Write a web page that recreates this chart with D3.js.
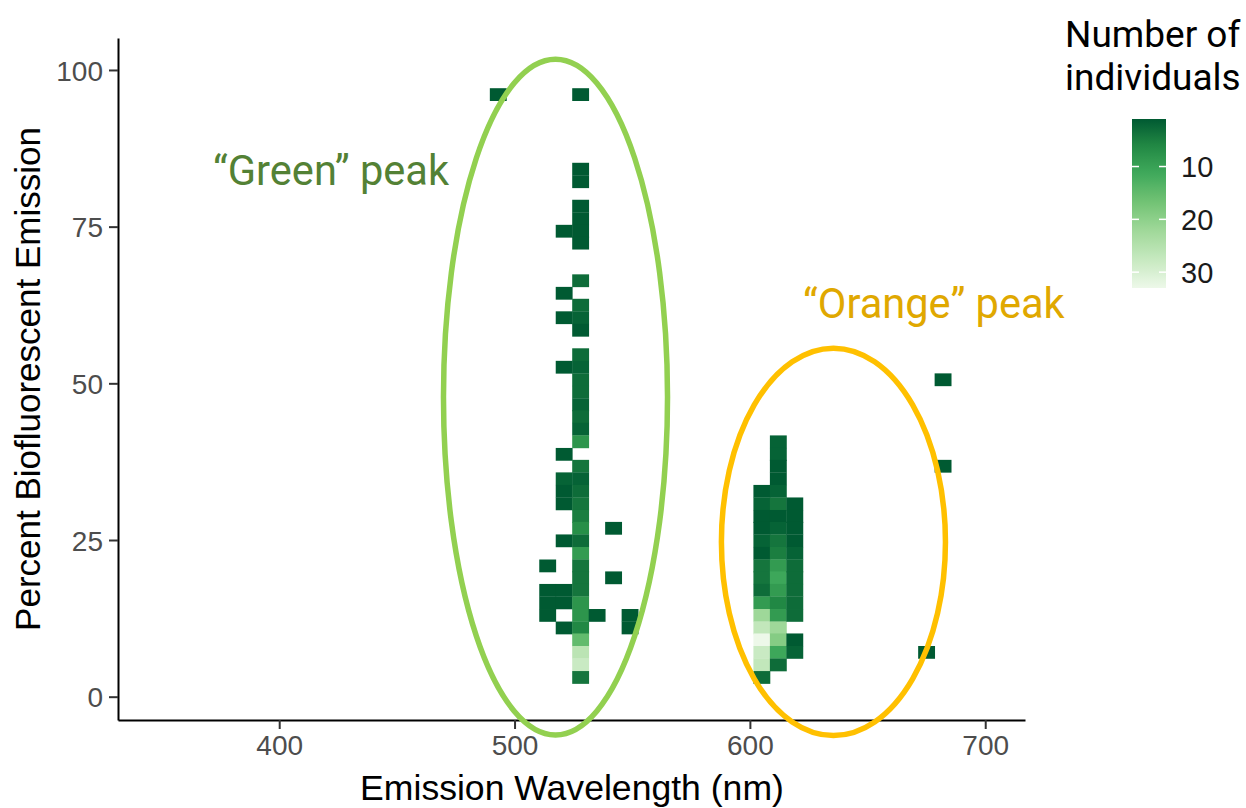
<!DOCTYPE html>
<html>
<head>
<meta charset="utf-8">
<script src="https://cdn.jsdelivr.net/npm/d3@7"></script>
<style>
  html, body { margin: 0; padding: 0; background: #ffffff; }
  svg { display: block; }
</style>
</head>
<body>
<svg id="chart" width="1246" height="808"></svg>
<script>
// ---- Binned counts: one entry per filled cell (bin centre wavelength, bin centre percent, count) ----
const wavelength = [
  493,
  514, 514, 514, 514,
  521, 521, 521, 521, 521, 521, 521, 521, 521, 521, 521, 521,
  528, 528, 528, 528, 528, 528, 528, 528, 528, 528, 528, 528, 528, 528, 528, 528, 528,
  528, 528, 528, 528, 528, 528, 528, 528, 528, 528, 528, 528, 528, 528, 528, 528, 528, 528, 528, 528,
  535,
  542, 542,
  549, 549,
  605, 605, 605, 605, 605, 605, 605, 605, 605, 605, 605, 605, 605, 605, 605, 605,
  612, 612, 612, 612, 612, 612, 612, 612, 612, 612, 612, 612, 612, 612, 612, 612, 612, 612, 612,
  619, 619, 619, 619, 619, 619, 619, 619, 619, 619, 619, 619,
  675,
  682, 682
];
const percent = [
  96.1,
  20.9, 17.0, 15.0, 13.0,
  74.3, 64.4, 60.5, 52.6, 38.7, 34.8, 32.8, 30.8, 24.9, 17.0, 15.0, 11.0,
  96.1, 84.2, 82.2, 78.3, 76.3, 74.3, 72.4, 66.4, 62.5, 60.5, 58.5, 54.6, 52.6, 50.6, 48.6, 46.6, 44.7,
  42.7, 40.7, 36.8, 34.8, 32.8, 30.8, 28.8, 26.9, 24.9, 22.9, 20.9, 19.0, 17.0, 15.0, 13.0, 11.0, 9.1, 7.1, 5.1, 3.1,
  13.0,
  26.9, 19.0,
  13.0, 11.0,
  32.8, 30.8, 28.8, 26.9, 24.9, 22.9, 20.9, 19.0, 17.0, 15.0, 13.0, 11.0, 9.1, 7.1, 5.1, 3.1,
  40.7, 38.7, 36.8, 34.8, 32.8, 30.8, 28.8, 26.9, 24.9, 22.9, 20.9, 19.0, 17.0, 15.0, 13.0, 11.0, 9.1, 7.1, 5.1,
  30.8, 28.8, 26.9, 24.9, 22.9, 20.9, 19.0, 17.0, 15.0, 13.0, 9.1, 7.1,
  7.1,
  50.6, 36.8
];
const individuals = [
  1,
  1, 1, 1, 1,
  1, 1, 1, 1, 1, 2, 1, 1, 1, 1, 1, 1,
  1, 1, 1, 1, 1, 1, 1, 3, 3, 2, 1, 3, 2, 3, 3, 2, 3,
  2, 8, 4, 2, 3, 4, 5, 7, 3, 9, 4, 4, 4, 8, 8, 6, 15, 26, 28, 4,
  1,
  1, 1,
  1, 1,
  1, 2, 1, 1, 2, 1, 4, 4, 3, 9, 22, 27, 33, 28, 27, 3,
  2, 2, 1, 1, 2, 4, 1, 2, 4, 5, 9, 11, 9, 6, 9, 22, 19, 11, 3,
  1, 1, 1, 1, 2, 3, 3, 3, 3, 3, 1, 2,
  1,
  1, 1
];

// ---- Axis and legend ticks ----
const xTicks = [400, 500, 600, 700];
const yTicks = [0, 25, 50, 75, 100];
const legendTicks = [10, 20, 30];

// ---- Colour palette (ColorBrewer Greens, dark for few individuals) ----
const greens = ["#005A32", "#238B45", "#41AB5D", "#74C476", "#A1D99B", "#C7E9C0", "#EDF8E9"];

// ---- Peak annotations ----
const peakLabels = ["\u201CGreen\u201D peak", "\u201COrange\u201D peak"];
const peakCentreNm = [517.4, 635.5];
const peakCentrePct = [47.8, 24.7];
const peakHalfWidthNm = [47.6, 47.6];
const peakHalfHeightPct = [53.9, 30.9];
const peakLabelNm = [371.9, 622.6];
const peakLabelPct = [81.6, 60.4];
const peakStroke = ["#92D050", "#FFC000"];
const peakText = ["#538135", "#E0A800"];

// ---- Layout ----
const svg = d3.select("#chart");
const plot = { left: 118, right: 1025, top: 38, bottom: 720 };
const binWidthNm = 7;
const binHeightPct = 1.978;
const sansFont = "'Liberation Sans', Arial, sans-serif";
const annoFont = "Roboto, 'Noto Sans', sans-serif";

const x = d3.scaleLinear().domain([331.5, 716.9]).range([plot.left, plot.right]);
const y = d3.scaleLinear().domain([-3.72, 105.1]).range([plot.bottom, plot.top]);

const countExtent = d3.extent(individuals);
const stops = greens.map((_, i) => countExtent[0] + i * (countExtent[1] - countExtent[0]) / (greens.length - 1));
const fill = d3.scaleLinear().domain(stops).range(greens).interpolate(d3.interpolateLab);

const cells = wavelength.map((w, i) => ({ w, p: percent[i], n: individuals[i] }));

// ---- Heatmap cells ----
svg.append("g")
  .selectAll("rect")
  .data(cells)
  .join("rect")
  .attr("x", d => x(d.w - binWidthNm / 2))
  .attr("width", d => x(d.w + binWidthNm / 2) - x(d.w - binWidthNm / 2) + 0.4)
  .attr("y", d => y(d.p + binHeightPct / 2))
  .attr("height", d => y(d.p - binHeightPct / 2) - y(d.p + binHeightPct / 2) + 0.4)
  .attr("fill", d => fill(d.n));

// ---- Axes ----
const xAxis = svg.append("g")
  .attr("transform", `translate(0,${plot.bottom})`)
  .call(d3.axisBottom(x).tickValues(xTicks).tickSize(9).tickSizeOuter(0).tickPadding(6));
const yAxis = svg.append("g")
  .attr("transform", `translate(${plot.left},0)`)
  .call(d3.axisLeft(y).tickValues(yTicks).tickSize(9).tickSizeOuter(0).tickPadding(6));

[xAxis, yAxis].forEach(g => {
  g.select(".domain").attr("stroke", "#000").attr("stroke-width", 2);
  g.selectAll(".tick line").attr("stroke", "#333").attr("stroke-width", 2);
  g.selectAll(".tick text")
    .attr("fill", "#4d4d4d")
    .style("font-family", sansFont)
    .style("font-size", "28px");
});
yAxis.selectAll(".tick text").attr("dy", "0.36em");

// axis titles
svg.append("text")
  .attr("x", 572)
  .attr("y", 800)
  .attr("text-anchor", "middle")
  .style("font-family", sansFont)
  .style("font-size", "35.6px")
  .attr("fill", "#000")
  .text("Emission Wavelength (nm)");

svg.append("text")
  .attr("transform", `translate(40,${(plot.top + plot.bottom) / 2}) rotate(-90)`)
  .attr("text-anchor", "middle")
  .style("font-family", sansFont)
  .style("font-size", "35px")
  .attr("fill", "#000")
  .text("Percent Biofluorescent Emission");

// ---- Colour bar legend ----
const legend = { left: 1132, width: 34, top: 119, bottom: 288 };
const ly = d3.scaleLinear().domain(countExtent).range([legend.top, legend.bottom]);

const grad = svg.append("defs").append("linearGradient")
  .attr("id", "countGradient")
  .attr("x1", 0).attr("y1", 0).attr("x2", 0).attr("y2", 1);
d3.range(0, 1.0001, 0.05).forEach(t => {
  grad.append("stop")
    .attr("offset", t)
    .attr("stop-color", fill(countExtent[0] + t * (countExtent[1] - countExtent[0])));
});

svg.append("rect")
  .attr("x", legend.left)
  .attr("y", legend.top)
  .attr("width", legend.width)
  .attr("height", legend.bottom - legend.top)
  .attr("fill", "url(#countGradient)");

const lt = svg.append("g");
legendTicks.forEach(v => {
  lt.append("line")
    .attr("x1", legend.left).attr("x2", legend.left + 7)
    .attr("y1", ly(v)).attr("y2", ly(v))
    .attr("stroke", "#fff").attr("stroke-width", 1.5);
  lt.append("line")
    .attr("x1", legend.left + legend.width - 7).attr("x2", legend.left + legend.width)
    .attr("y1", ly(v)).attr("y2", ly(v))
    .attr("stroke", "#fff").attr("stroke-width", 1.5);
  lt.append("text")
    .attr("x", legend.left + legend.width + 15)
    .attr("y", ly(v))
    .attr("dy", "0.36em")
    .style("font-family", sansFont)
    .style("font-size", "29px")
    .attr("fill", "#1a1a1a")
    .text(v);
});

const title = svg.append("text")
  .style("font-family", annoFont)
  .style("font-size", "37px")
  .attr("fill", "#000");
title.append("tspan").attr("x", 1065).attr("y", 47).text("Number of");
title.append("tspan").attr("x", 1065).attr("y", 90).text("individuals");

// ---- Peak outlines and labels ----
const peaks = peakLabels.map((label, i) => ({
  label,
  cx: peakCentreNm[i], cy: peakCentrePct[i],
  rx: peakHalfWidthNm[i], ry: peakHalfHeightPct[i],
  lx: peakLabelNm[i], lyv: peakLabelPct[i],
  stroke: peakStroke[i], text: peakText[i]
}));

svg.append("g")
  .selectAll("ellipse")
  .data(peaks)
  .join("ellipse")
  .attr("cx", d => x(d.cx))
  .attr("cy", d => y(d.cy))
  .attr("rx", d => x(d.cx + d.rx) - x(d.cx))
  .attr("ry", d => y(d.cy - d.ry) - y(d.cy))
  .attr("fill", "none")
  .attr("stroke", d => d.stroke)
  .attr("stroke-width", 5.5);

svg.append("g")
  .selectAll("text")
  .data(peaks)
  .join("text")
  .attr("x", d => x(d.lx))
  .attr("y", d => y(d.lyv))
  .style("font-family", annoFont)
  .style("font-size", "41.6px")
  .attr("fill", d => d.text)
  .text(d => d.label);
</script>
</body>
</html>
